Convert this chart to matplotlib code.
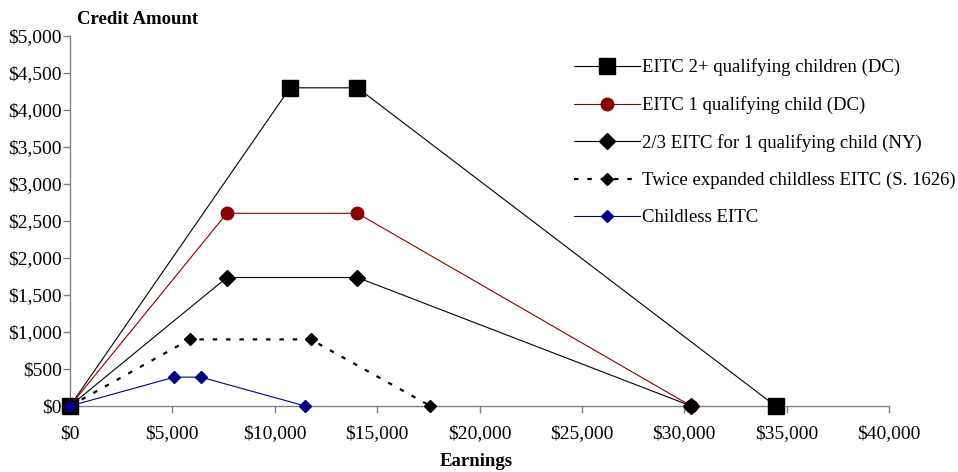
import matplotlib.pyplot as plt
from matplotlib.ticker import FuncFormatter

plt.rcParams['font.family'] = ['Liberation Serif', 'DejaVu Serif']

# EITC schedules: earnings breakpoints and credit amounts
two_kids_x = [0, 10750, 14040, 34458]
two_kids_y = [0, 4300, 4300, 0]

one_kid_x = [0, 7660, 14040, 30338]
one_kid_y = [0, 2604, 2604, 0]

ny_x = [0, 7660, 14040, 30338]
ny_y = [0, 1736, 1736, 0]

expanded_x = [0, 5850, 11750, 17600]
expanded_y = [0, 900, 900, 0]

childless_x = [0, 5100, 6390, 11490]
childless_y = [0, 390, 390, 0]

x_ticks = list(range(0, 40001, 5000))
y_ticks = list(range(0, 5001, 500))

fig = plt.figure(figsize=(9.58, 4.72), dpi=100)
ax = fig.add_axes([70 / 958, 66 / 472, 819 / 958, 370 / 472])

ax.plot(two_kids_x, two_kids_y, color="black", lw=0.8, marker="s", ms=12,
        label="EITC 2+ qualifying children (DC)", zorder=3)
ax.plot(one_kid_x, one_kid_y, color="#8b0000", lw=0.8, marker="o", ms=9,
        label="EITC 1 qualifying child (DC)", zorder=4)
ax.plot(ny_x, ny_y, color="black", lw=0.8, marker="D", ms=8,
        label="2/3 EITC for 1 qualifying child (NY)", zorder=5)
ax.plot(expanded_x, expanded_y, color="black", lw=1.6, ls=(0, (2, 4)), marker="D", ms=6,
        label="Twice expanded childless EITC (S. 1626)", zorder=6)
ax.plot(childless_x, childless_y, color="#00008b", lw=0.8, marker="D", ms=6,
        label="Childless EITC", zorder=7)

ax.set_xlim(0, 40000)
ax.set_ylim(0, 5000)
ax.set_xticks(x_ticks)
ax.set_yticks(y_ticks)
money = FuncFormatter(lambda v, p: f"${v:,.0f}")
ax.xaxis.set_major_formatter(money)
ax.yaxis.set_major_formatter(money)
ax.tick_params(labelsize=14, color="#808080", length=5, width=1)
ax.tick_params(axis="y", pad=1)
ax.tick_params(axis="x", pad=9)

for side in ["top", "right"]:
    ax.spines[side].set_visible(False)
for side in ["left", "bottom"]:
    ax.spines[side].set_color("#808080")
    ax.spines[side].set_linewidth(1)
    ax.spines[side].set_zorder(1)
for ln in ax.lines:
    ln.set_clip_on(False)

fig.text(138 / 958, 1 - 19 / 472, "Credit Amount", fontsize=13.5, fontweight="bold",
         ha="center", va="center")
fig.text(476 / 958, 1 - 462 / 472, "Earnings", fontsize=13.5, fontweight="bold",
         ha="center", va="center")

ax.legend(loc="upper left", bbox_to_anchor=(566.5 / 958, 1 - 51 / 472),
          bbox_transform=fig.transFigure, frameon=False, fontsize=13.5,
          handlelength=3.5, labelspacing=1.06, handletextpad=0.15, borderaxespad=0)

fig.savefig("out.png", dpi=100)
